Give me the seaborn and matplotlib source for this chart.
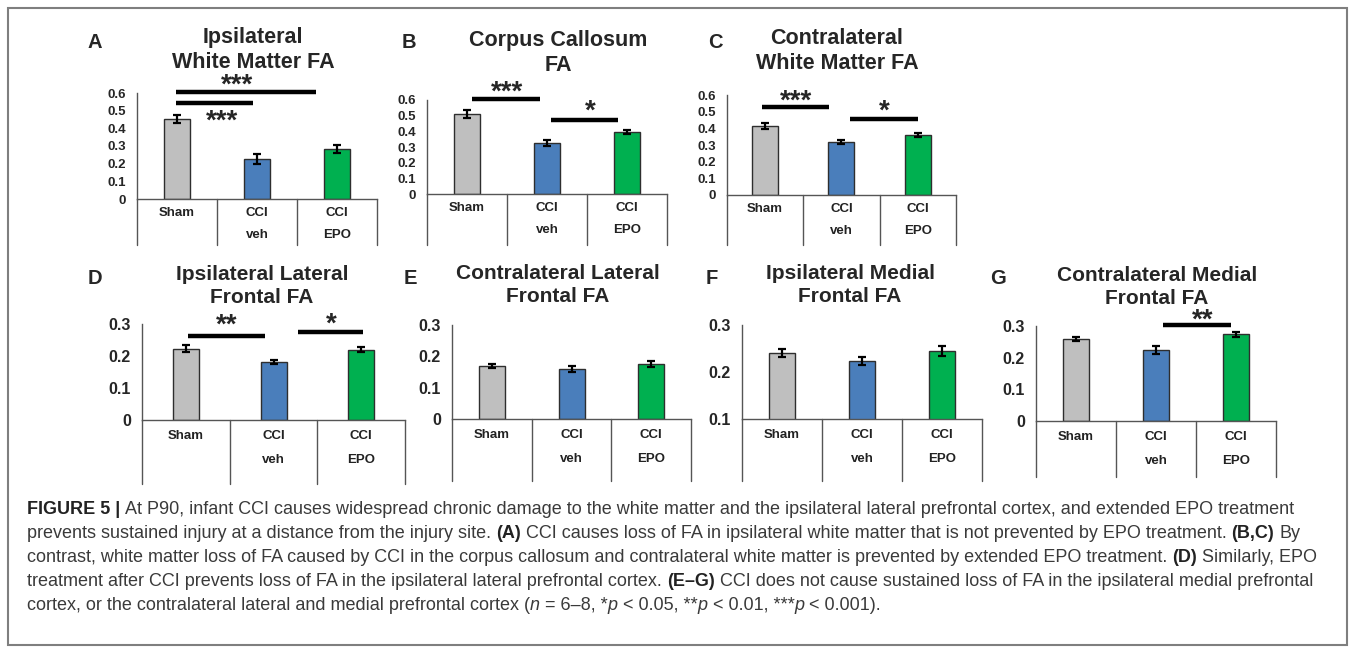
import matplotlib
matplotlib.use("Agg")
import matplotlib.pyplot as plt
import matplotlib.transforms as mtransforms
import pandas as pd
import seaborn as sns

sns.set_style("white")
plt.rcParams["font.family"] = ["Liberation Sans", "DejaVu Sans"]

# ---- data ----
groups = ["Sham", "CCI\nveh", "CCI\nEPO"]
bar_colors = ["#BFBFBF", "#4A7EBB", "#00B050"]

ipsi_wm_mean = [0.453, 0.226, 0.283]
ipsi_wm_sem = [0.020, 0.028, 0.022]
cc_mean = [0.510, 0.326, 0.396]
cc_sem = [0.025, 0.018, 0.010]
contra_wm_mean = [0.414, 0.318, 0.360]
contra_wm_sem = [0.020, 0.012, 0.014]
ipsi_lat_mean = [0.222, 0.181, 0.219]
ipsi_lat_sem = [0.011, 0.006, 0.008]
contra_lat_mean = [0.169, 0.160, 0.176]
contra_lat_sem = [0.0075, 0.009, 0.0095]
ipsi_med_mean = [0.240, 0.223, 0.245]
ipsi_med_sem = [0.008, 0.009, 0.011]
contra_med_mean = [0.259, 0.224, 0.274]
contra_med_sem = [0.0075, 0.0115, 0.0085]

# significance bars: (x start, x end, y) and star labels: (text, x, y)
sig_bars = {
    "A": [(-0.01, 1.74, 0.605), (-0.01, 0.95, 0.545)],
    "B": [(0.06, 0.91, 0.606), (1.05, 1.89, 0.472)],
    "C": [(-0.04, 0.84, 0.528), (1.11, 2.00, 0.456)],
    "D": [(0.02, 0.90, 0.262), (1.28, 2.02, 0.275)],
    "G": [(1.09, 1.94, 0.303)],
}
sig_stars = {
    "A": [("***", 0.75, 0.662), ("***", 0.56, 0.458)],
    "B": [("***", 0.50, 0.664), ("*", 1.54, 0.549)],
    "C": [("***", 0.40, 0.582), ("*", 1.56, 0.522)],
    "D": [("**", 0.47, 0.306), ("*", 1.66, 0.309)],
    "G": [("**", 1.58, 0.328)],
}

panels = [
    ("A", "Ipsilateral\nWhite Matter FA", ipsi_wm_mean, ipsi_wm_sem),
    ("B", "Corpus Callosum\nFA", cc_mean, cc_sem),
    ("C", "Contralateral\nWhite Matter FA", contra_wm_mean, contra_wm_sem),
    ("D", "Ipsilateral Lateral\nFrontal FA", ipsi_lat_mean, ipsi_lat_sem),
    ("E", "Contralateral Lateral\nFrontal FA", contra_lat_mean, contra_lat_sem),
    ("F", "Ipsilateral Medial\nFrontal FA", ipsi_med_mean, ipsi_med_sem),
    ("G", "Contralateral Medial\nFrontal FA", contra_med_mean, contra_med_sem),
]

# ---- layout in pixels: left, right, zero-y, top-y, table bottom, ylim, ticks ----
row1_ticks = [0, 0.1, 0.2, 0.3, 0.4, 0.5, 0.6]
row2_ticks = [0, 0.1, 0.2, 0.3]
layout = {
    "A": dict(box=(137, 377, 199, 93, 245), ylim=(0, 0.6), ticks=row1_ticks, title=(253, 50), letter=(95, 43), row=1),
    "B": dict(box=(427, 667, 194, 100, 245), ylim=(0, 0.6), ticks=row1_ticks, title=(558, 53), letter=(409, 43), row=1),
    "C": dict(box=(727, 956, 195, 95, 245), ylim=(0, 0.6), ticks=row1_ticks, title=(837, 51), letter=(715, 43), row=1),
    "D": dict(box=(142, 405, 420, 324, 484), ylim=(0, 0.3), ticks=row2_ticks, title=(262, 286), letter=(95, 278), row=2),
    "E": dict(box=(452, 691, 419, 325, 481), ylim=(0, 0.3), ticks=row2_ticks, title=(558, 285), letter=(410, 278), row=2),
    "F": dict(box=(742, 982, 419, 325, 481), ylim=(0.1, 0.3), ticks=[0.1, 0.2, 0.3], title=(850, 285), letter=(712, 278), row=2),
    "G": dict(box=(1036, 1276, 421, 326, 477), ylim=(0, 0.3), ticks=row2_ticks, title=(1157, 287), letter=(998, 278), row=2),
}

W, H = 1355, 652
fig = plt.figure(figsize=(W / 100, H / 100), dpi=100)
line_col = "#555555"


def fy(py):
    return 1 - py / H


for letter, title, means, sems in panels:
    lay = layout[letter]
    l, r, y0, ytop, ybot = lay["box"]
    ax = fig.add_axes([l / W, fy(y0), (r - l) / W, (y0 - ytop) / H])
    cat_px = (r - l) / 3
    df = pd.DataFrame({"group": groups, "fa": means})
    sns.barplot(data=df, x="group", y="fa", hue="group", palette=bar_colors,
                width=26 / cat_px, edgecolor="#2e2e2e", linewidth=1.0, saturation=1,
                errorbar=None, legend=False, ax=ax, zorder=2)
    ax.errorbar(range(3), means, yerr=sems, fmt="none", ecolor="black",
                elinewidth=1.6, capsize=3, capthick=1.6, zorder=3)
    ax.set_xlim(-0.5, 2.5)
    ax.set_ylim(*lay["ylim"])
    ax.set_xlabel("")
    ax.set_ylabel("")
    ax.set_xticks([])
    tick_fs = 9.5 if lay["row"] == 1 else 11.5
    ax.set_yticks(lay["ticks"])
    ax.set_yticklabels(["0" if t == 0 else f"{t:.1f}" for t in lay["ticks"]],
                       fontweight="bold", fontsize=tick_fs)
    ax.tick_params(axis="y", length=0, pad=8)
    for side in ["top", "right"]:
        ax.spines[side].set_visible(False)
    for side in ["left", "bottom"]:
        ax.spines[side].set_color(line_col)
        ax.spines[side].set_linewidth(1.0)

    # category table under the axis
    bt = mtransforms.blended_transform_factory(ax.transData, fig.transFigure)
    for xb in [-0.5, 0.5, 1.5, 2.5]:
        ax.plot([xb, xb], [fy(y0), fy(ybot)], transform=bt, color=line_col,
                lw=1.0, clip_on=False)
    d1, d2 = (14, 36) if lay["row"] == 1 else (16, 40)
    for i, g in enumerate(groups):
        parts = g.split("\n")
        ax.text(i, fy(y0 + d1), parts[0], transform=bt, ha="center", va="center",
                fontsize=9.5, fontweight="bold", color="#222222")
        if len(parts) > 1:
            ax.text(i, fy(y0 + d2), parts[1], transform=bt, ha="center", va="center",
                    fontsize=9.5, fontweight="bold", color="#222222")

    # significance
    for x1, x2, yb in sig_bars.get(letter, []):
        ax.plot([x1, x2], [yb, yb], color="black", lw=3.2, clip_on=False,
                solid_capstyle="butt")
    star_fs = 20
    for txt, xs, ys in sig_stars.get(letter, []):
        tr = mtransforms.offset_copy(ax.transData, fig=fig, y=-0.44 * star_fs + 1.5, units="points")
        ax.text(xs, ys, txt, transform=tr, ha="center", va="baseline",
                fontsize=star_fs, fontweight="bold", clip_on=False)

    tfs = 15.5 if lay["row"] == 1 else 15
    fig.text(lay["title"][0] / W, fy(lay["title"][1]), title, ha="center", va="center",
             fontsize=tfs, fontweight="bold", linespacing=1.25)
    fig.text(lay["letter"][0] / W, fy(lay["letter"][1]), letter, ha="center", va="center",
             fontsize=14.5, fontweight="bold")

# ---- caption ----
caption = [
    [("FIGURE 5 |", "b"), ("At P90, infant CCI causes widespread chronic damage to the white matter and the ipsilateral lateral prefrontal cortex, and extended EPO treatment", "")],
    [("prevents sustained injury at a distance from the injury site.", ""), ("(A)", "b"),
     ("CCI causes loss of FA in ipsilateral white matter that is not prevented by EPO treatment.", ""), ("(B,C)", "b"), ("By", "")],
    [("contrast, white matter loss of FA caused by CCI in the corpus callosum and contralateral white matter is prevented by extended EPO treatment.", ""),
     ("(D)", "b"), ("Similarly, EPO", "")],
    [("treatment after CCI prevents loss of FA in the ipsilateral lateral prefrontal cortex.", ""), ("(E\u2013G)", "b"),
     ("CCI does not cause sustained loss of FA in the ipsilateral medial prefrontal", "")],
    [("cortex, or the contralateral lateral and medial prefrontal cortex (", ""), ("n", "i"), ("\u00a0= 6\u20138, *", "g"),
     ("p", "i"), ("\u00a0< 0.05, **", "g"), ("p", "i"), ("\u00a0< 0.01, ***", "g"), ("p", "i"), ("\u00a0< 0.001).", "g")],
]
cap_y = [510, 534, 557, 581, 605]
cap_fs = 13.0
renderer = fig.canvas.get_renderer()


def width_of(s, **kw):
    t = fig.text(0, 0, s, fontsize=cap_fs, **kw)
    w = t.get_window_extent(renderer=renderer).width
    t.remove()
    return w


space_w = width_of("x x") - width_of("xx")
for line, py in zip(caption, cap_y):
    x = 27
    for k, (s, st) in enumerate(line):
        kw = dict(fontsize=cap_fs, color="#3a3a3a")
        if st == "b":
            kw["fontweight"] = "bold"
            kw["color"] = "#222222"
        if st == "i":
            kw["fontstyle"] = "italic"
        t = fig.text(x / W, fy(py), s, ha="left", va="center", **kw)
        x += t.get_window_extent(renderer=renderer).width
        nxt = line[k + 1] if k + 1 < len(line) else None
        if nxt is not None and st != "i" and nxt[1] not in ("i", "g") and not s.endswith("("):
            x += space_w

# outer frame
fig.add_artist(plt.Rectangle((8 / W, fy(645)), (1347 - 8) / W, (645 - 8) / H,
                             transform=fig.transFigure, fill=False,
                             edgecolor="#7f7f7f", lw=1.5))

fig.savefig("out.png", dpi=100)
